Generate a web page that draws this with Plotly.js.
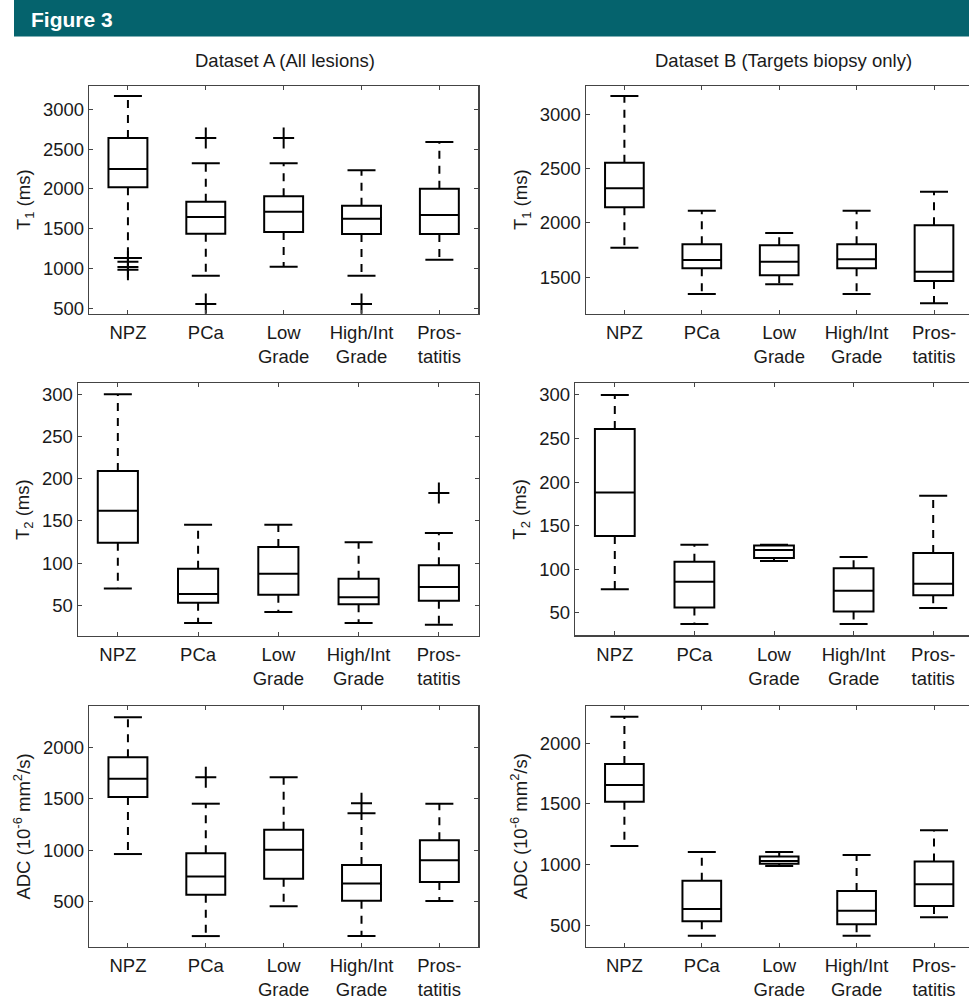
<!DOCTYPE html>
<html>
<head>
<meta charset="utf-8">
<script src="https://cdn.plot.ly/plotly-3.0.1.min.js"></script>
<style>
html, body { margin:0; padding:0; overflow:hidden; background:#fff; }
#chart { width:976px; height:996px; }
</style>
</head>
<body>
<div id="chart"></div>
<script>
// ---------- DATA ----------
const categories = ['NPZ', 'PCa', 'Low Grade', 'High/Int Grade', 'Prostatitis'];
const tickLabels = ['NPZ', 'PCa', 'Low<br>Grade', 'High/Int<br>Grade', 'Pros-<br>tatitis'];

// Dataset A (All lesions) – T1 (ms)
const t1A_lower = [1133, 910, 1023, 910, 1111];
const t1A_q1    = [2020, 1435, 1459, 1433, 1433];
const t1A_med   = [2250, 1647, 1714, 1626, 1672];
const t1A_q3    = [2640, 1839, 1907, 1789, 2003];
const t1A_upper = [3167, 2322, 2322, 2234, 2589];
const t1A_outCat = ['NPZ', 'NPZ', 'NPZ', 'PCa', 'PCa', 'Low Grade', 'High/Int Grade'];
const t1A_outVal = [1085, 1020, 985, 2640, 555, 2640, 555];

// Dataset A – T2 (ms)
const t2A_lower = [70, 29, 42, 29, 27];
const t2A_q1    = [124, 53, 62.6, 51.2, 55.5];
const t2A_med   = [162, 63.4, 87.5, 59.5, 71.7];
const t2A_q3    = [209, 93.4, 119, 81.5, 97.4];
const t2A_upper = [300, 145.5, 145.5, 124.6, 135.7];
const t2A_outCat = ['Prostatitis'];
const t2A_outVal = [183];

// Dataset A – ADC (10^-6 mm2/s)
const adcA_lower = [963, 166, 455, 166, 506];
const adcA_q1    = [1517, 568, 723, 509, 691];
const adcA_med   = [1695, 746, 1005, 678, 902];
const adcA_q3    = [1903, 970, 1200, 856, 1096];
const adcA_upper = [2291, 1452, 1708, 1359, 1452];
const adcA_outCat = ['PCa', 'High/Int Grade'];
const adcA_outVal = [1708, 1456];

// Dataset B (Targets biopsy only) – T1 (ms)
const t1B_lower = [1771, 1344, 1433, 1344, 1258];
const t1B_q1    = [2143, 1581, 1516, 1581, 1464];
const t1B_med   = [2318, 1657, 1642, 1664, 1549];
const t1B_q3    = [2554, 1802, 1793, 1802, 1977];
const t1B_upper = [3169, 2112, 1906, 2112, 2287];

// Dataset B – T2 (ms)
const t2B_lower = [77, 37, 109.3, 37, 55.4];
const t2B_q1    = [138, 56, 112.8, 51.2, 70];
const t2B_med   = [188, 85.6, 122, 75.3, 83.3];
const t2B_q3    = [261, 108.6, 127, 101, 118.5];
const t2B_upper = [300, 128, 128, 114, 184.4];

// Dataset B – ADC (10^-6 mm2/s)
const adcB_lower = [1153, 414, 988, 414, 566];
const adcB_q1    = [1519, 533, 1007, 510, 659];
const adcB_med   = [1656, 634, 1030, 620, 838];
const adcB_q3    = [1829, 867, 1068, 782, 1027];
const adcB_upper = [2219, 1104, 1104, 1079, 1283];

const panelTitleA = 'Dataset A (All lesions)';
const panelTitleB = 'Dataset B (Targets biopsy only)';
const yTitleT1 = 'T<sub>1</sub> (ms)';
const yTitleT2 = 'T<sub>2</sub> (ms)';
const yTitleADC = 'ADC (10<sup>-6</sup> mm<sup>2</sup>/s)';
const figureLabel = 'Figure 3';

// ---------- LAYOUT HELPERS ----------
const W = 976, H = 996;
const FONT = 'Liberation Sans, Arial, Helvetica, sans-serif';
const FS = 18.5;
function dx(a, b) { return [a / W, b / W]; }
function dy(top, bottom) { return [1 - bottom / H, 1 - top / H]; }

const traces = [];
function addPanel(n, lower, q1, med, q3, upper, outCat, outVal) {
  const xa = n === 1 ? 'x' : 'x' + n;
  const ya = n === 1 ? 'y' : 'y' + n;
  traces.push({
    type: 'box', x: categories, q1: q1, median: med, q3: q3,
    lowerfence: q1, upperfence: q3, width: 0.5, whiskerwidth: 0,
    fillcolor: 'rgba(255,255,255,0)', line: { color: '#000', width: 2 },
    xaxis: xa, yaxis: ya, hoverinfo: 'skip', boxpoints: false
  });
  const wx = [], wy = [];
  categories.forEach((c, i) => {
    wx.push(c, c, null, c, c, null);
    wy.push(q3[i], upper[i], null, q1[i], lower[i], null);
  });
  traces.push({
    type: 'scatter', mode: 'lines', x: wx, y: wy, connectgaps: false,
    line: { color: '#000', width: 2, dash: '8px,7px' },
    xaxis: xa, yaxis: ya, hoverinfo: 'skip'
  });
  const cx = [], cy = [];
  categories.forEach((c, i) => { cx.push(c, c); cy.push(upper[i], lower[i]); });
  traces.push({
    type: 'scatter', mode: 'markers', x: cx, y: cy,
    marker: { symbol: 'line-ew', size: 20, color: '#000', line: { color: '#000', width: 2 } },
    xaxis: xa, yaxis: ya, hoverinfo: 'skip'
  });
  if (outCat && outCat.length) {
    traces.push({
      type: 'scatter', mode: 'markers', x: outCat, y: outVal,
      marker: { symbol: 'cross-thin', size: 15, color: '#000', line: { color: '#000', width: 2 } },
      xaxis: xa, yaxis: ya, hoverinfo: 'skip'
    });
  }
}

addPanel(1, t1A_lower, t1A_q1, t1A_med, t1A_q3, t1A_upper, t1A_outCat, t1A_outVal);
addPanel(2, t1B_lower, t1B_q1, t1B_med, t1B_q3, t1B_upper);
addPanel(3, t2A_lower, t2A_q1, t2A_med, t2A_q3, t2A_upper, t2A_outCat, t2A_outVal);
addPanel(4, t2B_lower, t2B_q1, t2B_med, t2B_q3, t2B_upper);
addPanel(5, adcA_lower, adcA_q1, adcA_med, adcA_q3, adcA_upper, adcA_outCat, adcA_outVal);
addPanel(6, adcB_lower, adcB_q1, adcB_med, adcB_q3, adcB_upper);

const axBase = {
  showline: true, mirror: 'ticks', linecolor: '#444', linewidth: 1.2,
  ticks: 'inside', ticklen: 4, tickcolor: '#444', tickwidth: 1,
  showgrid: false, zeroline: false, fixedrange: true,
  tickfont: { family: FONT, size: FS, color: '#1a1a1a' }
};
function xAxis(domain, anchor) {
  return Object.assign({}, axBase, {
    type: 'category', domain: domain, anchor: anchor, range: [-0.5, 4.5],
    categoryorder: 'array', categoryarray: categories,
    tickmode: 'array', tickvals: categories, ticktext: tickLabels,
    ticklabelstandoff: 2
  });
}
function yAxis(domain, anchor, range, tick0, dtick, title) {
  return Object.assign({}, axBase, {
    domain: domain, anchor: anchor, range: range, tickmode: 'linear', tick0: tick0, dtick: dtick,
    title: { text: title, font: { family: FONT, size: FS, color: '#1a1a1a' }, standoff: 7 }
  });
}

const layout = {
  width: W, height: H, showlegend: false,
  margin: { l: 0, r: 0, t: 0, b: 0, pad: 0 },
  paper_bgcolor: '#fff', plot_bgcolor: '#fff',
  xaxis:  xAxis(dx(89, 478.3), 'y'),
  yaxis:  yAxis(dy(85.7, 313.7), 'x', [432, 3296], 500, 500, yTitleT1),
  xaxis2: xAxis(dx(585.7, 972.7), 'y2'),
  yaxis2: yAxis(dy(85.7, 313.7), 'x2', [1162, 3264], 1500, 500, yTitleT1),
  xaxis3: xAxis(dx(77.7, 479), 'y3'),
  yaxis3: yAxis(dy(383.3, 636), 'x3', [13.6, 313], 50, 50, yTitleT2),
  xaxis4: xAxis(dx(575, 973), 'y4'),
  yaxis4: yAxis(dy(383.3, 635.3), 'x4', [24, 313.4], 50, 50, yTitleT2),
  xaxis5: xAxis(dx(89, 478.3), 'y5'),
  yaxis5: yAxis(dy(706, 947), 'x5', [60, 2401], 500, 500, yTitleADC),
  xaxis6: xAxis(dx(585.7, 972.7), 'y6'),
  yaxis6: yAxis(dy(705.7, 946.7), 'x6', [324, 2310], 500, 500, yTitleADC),
  shapes: [{
    type: 'rect', xref: 'paper', yref: 'paper', layer: 'below',
    x0: 14 / W, x1: 1, y0: 1 - 36.5 / H, y1: 1,
    fillcolor: '#05636d', line: { width: 0 }
  }],
  annotations: [
    { text: '<b>' + figureLabel + '</b>', xref: 'paper', yref: 'paper', x: 29 / W, y: 1 - 19 / H,
      xanchor: 'left', yanchor: 'middle', showarrow: false,
      font: { family: FONT, size: 21, color: '#fff' } },
    { text: panelTitleA, xref: 'paper', yref: 'paper', x: 285 / W, y: 1 - 61 / H,
      xanchor: 'center', yanchor: 'middle', showarrow: false,
      font: { family: FONT, size: FS, color: '#1a1a1a' } },
    { text: panelTitleB, xref: 'paper', yref: 'paper', x: 783 / W, y: 1 - 61 / H,
      xanchor: 'center', yanchor: 'middle', showarrow: false,
      font: { family: FONT, size: FS, color: '#1a1a1a' } }
  ]
};

Plotly.newPlot('chart', traces, layout, { staticPlot: true, displayModeBar: false });
</script>
</body>
</html>
